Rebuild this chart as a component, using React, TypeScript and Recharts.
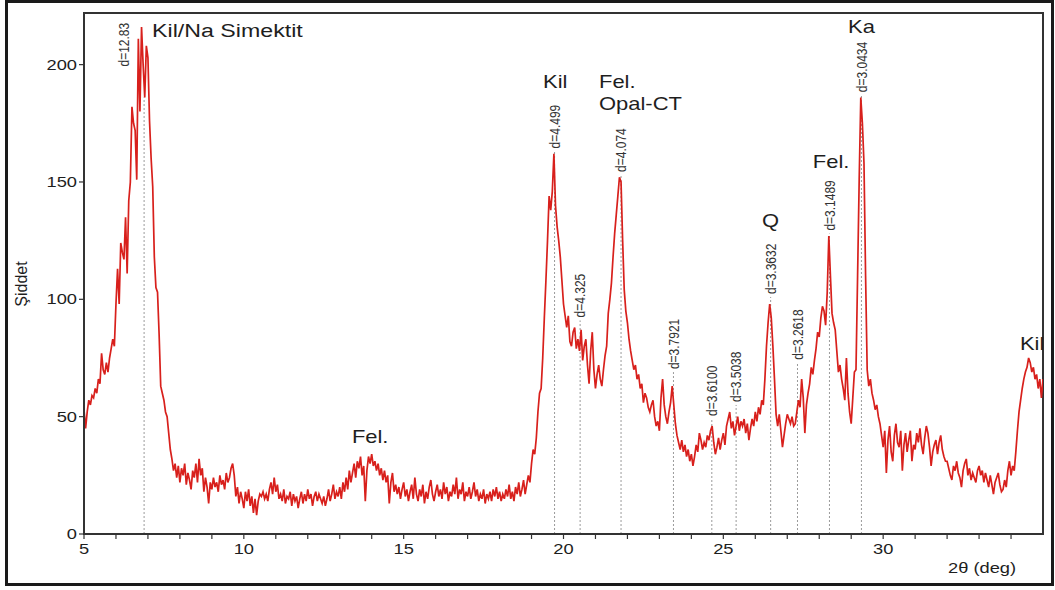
import { LineChart, Line, XAxis, YAxis, ReferenceLine, ReferenceArea, ReferenceDot } from 'recharts'

// 2θ grid: 5.00 .. 35.00 deg, one reading every 0.05 deg
const startAngle = 5
const angleStep = 0.05

// intensity, 5 deg per block
const int05to10 = [
  53, 45, 52, 57, 55, 59, 58, 62, 60, 66, 64, 77, 70, 68, 73, 69, 75, 79, 83, 80,
  98, 113, 98, 124, 120, 117, 135, 111, 142, 150, 182, 175, 172, 151, 211, 180, 216, 200, 186, 208,
  203, 176, 160, 148, 118, 105, 103, 85, 63, 60, 57, 52, 50, 43, 36, 32, 27, 30, 24, 29,
  22, 28, 25, 30, 21, 26, 23, 19, 27, 24, 30, 22, 32, 25, 28, 18, 24, 20, 13, 22,
  19, 24, 20, 22, 18, 25, 21, 23, 19, 26, 22, 24, 28, 30, 25, 16, 20, 13, 18, 15,
]
const int10to15 = [
  11, 18, 14, 19, 12, 16, 9, 15, 8, 14, 17, 16, 18, 15, 17, 14, 19, 22, 17, 24,
  18, 21, 15, 17, 14, 19, 13, 16, 15, 18, 12, 17, 14, 16, 11, 15, 18, 13, 17, 14,
  19, 15, 17, 12, 16, 18, 14, 17, 15, 13, 16, 12, 15, 19, 14, 17, 21, 15, 18, 16,
  20, 15, 22, 18, 24, 19, 27, 22, 26, 30, 24, 31, 28, 33, 25, 29, 14, 27, 33, 30,
  34, 29, 31, 27, 30, 25, 28, 23, 27, 22, 25, 13, 22, 26, 18, 21, 17, 20, 15, 19,
]
const int15to20 = [
  22, 16, 19, 14, 18, 21, 15, 24, 17, 14, 19, 16, 21, 13, 18, 15, 20, 23, 17, 14,
  18, 21, 16, 19, 15, 22, 17, 20, 14, 18, 16, 21, 17, 24, 15, 19, 17, 22, 14, 18,
  16, 20, 15, 18, 22, 16, 19, 14, 17, 15, 19, 13, 17, 15, 18, 14, 19, 16, 20, 15,
  18, 14, 17, 15, 19, 16, 21, 15, 18, 14, 20, 17, 22, 16, 19, 23, 17, 21, 25, 22,
  30, 36, 34, 41, 52, 60, 62, 75, 92, 108, 125, 144, 138, 146, 162, 140, 131, 125, 118, 108,
]
const int20to25 = [
  98, 93, 88, 93, 82, 80, 86, 88, 79, 83, 78, 87, 74, 80, 83, 72, 64, 78, 86, 70,
  62, 68, 72, 66, 63, 70, 76, 80, 94, 100, 107, 118, 128, 136, 144, 152, 150, 125, 104, 95,
  90, 83, 78, 74, 70, 72, 66, 68, 62, 64, 56, 60, 58, 54, 52, 55, 57, 50, 46, 48,
  44, 58, 66, 55, 50, 47, 52, 56, 63, 55, 47, 42, 39, 36, 40, 35, 38, 33, 36, 31,
  34, 29, 33, 38, 35, 43, 40, 36, 39, 37, 42, 40, 44, 46, 39, 34, 37, 41, 36, 40,
]
const int25to30 = [
  43, 38, 46, 49, 52, 45, 48, 42, 46, 50, 44, 48, 46, 49, 43, 47, 40, 45, 49, 46,
  52, 48, 54, 51, 57, 55, 66, 80, 90, 98, 92, 80, 66, 51, 46, 51, 44, 37, 42, 47,
  51, 49, 47, 50, 46, 47, 52, 57, 54, 66, 58, 43, 55, 60, 64, 71, 68, 74, 79, 86,
  84, 92, 97, 95, 89, 103, 127, 110, 94, 90, 87, 78, 69, 72, 66, 62, 57, 75, 60, 52,
  47, 58, 69, 70, 110, 151, 186, 175, 158, 110, 70, 63, 66, 60, 57, 53, 55, 50, 47, 42,
]
const int30to35 = [
  37, 44, 26, 40, 46, 35, 31, 42, 47, 39, 37, 44, 27, 38, 43, 35, 40, 44, 31, 38,
  36, 43, 39, 45, 38, 34, 41, 46, 43, 37, 29, 35, 38, 40, 34, 39, 42, 36, 33, 31,
  31, 28, 25, 23, 29, 27, 31, 26, 24, 20, 27, 30, 32, 25, 28, 23, 26, 24, 22, 27,
  29, 25, 27, 22, 26, 23, 20, 25, 21, 17, 22, 24, 26, 21, 18, 19, 23, 20, 27, 31,
  25, 29, 27, 35, 44, 52, 57, 62, 66, 69, 71, 75, 73, 69, 71, 66, 68, 62, 66, 58,
  66,
]

// d-spacing markers: 2θ of the peak, label, and how high the dashed line reaches
const peakAngles = [6.88, 19.72, 20.52, 21.8, 23.44, 24.64, 25.4, 26.48, 27.32, 28.32, 29.32]
const peakLabels = ['d=12.83', 'd=4.499', 'd=4.325', 'd=4.074', 'd=3.7921', 'd=3.6100', 'd=3.5038', 'd=3.3632', 'd=3.2618', 'd=3.1489', 'd=3.0434']
const peakTops = [186, 163, 91, 153, 69, 49, 55, 101, 73, 128, 187]

// mineral names and where they sit (2θ, intensity)
const mineralNames = ['Kil/Na Simektit', 'Kil', 'Fel.', 'Opal-CT', 'Fel.', 'Q', 'Fel.', 'Ka', 'Kil']
const mineralAngles = [7.13, 19.36, 21.11, 21.11, 13.38, 26.21, 27.8, 28.9, 34.28]
const mineralLevels = [211.8, 190, 190, 180.7, 38.8, 130.8, 156, 213.5, 78.4]

const xTicks = Array.from({ length: 30 }, (_, i) => 5 + i)
const yTicks = [0, 50, 100, 150, 200]

const intensity = [...int05to10, ...int10to15, ...int15to20, ...int20to25, ...int25to30, ...int30to35]
const data = intensity.map((v, i) => ({ angle: +(startAngle + i * angleStep).toFixed(2), v }))

const FONT = '"Liberation Sans", Arial, sans-serif'
const SX = 1.22
const INK = '#1e1e1e'
const RED = '#d8201c'

function XTick({ x, y, payload }: any) {
  if (payload.value % 5 !== 0) return null
  return (
    <text transform={`translate(${x},${y + 13}) scale(${SX},1)`} textAnchor="middle" fontSize={15} fill={INK} fontFamily={FONT}>
      {payload.value}
    </text>
  )
}

function YTick({ x, y, payload }: any) {
  return (
    <text transform={`translate(${x},${y + 5}) scale(${SX},1)`} textAnchor="end" fontSize={15} fill={INK} fontFamily={FONT}>
      {payload.value}
    </text>
  )
}

function PeakText({ cx, cy, label }: any) {
  // the first label sits left of its line, above the peak
  const shift = label === 'd=12.83' ? [-20, -28] : [0, 0]
  return (
    <text
      transform={`translate(${cx + shift[0]},${cy - 3 + shift[1]}) rotate(-90) scale(1,${SX})`}
      dy="0.36em"
      fontSize={12}
      fill="#333"
      fontFamily={FONT}
    >
      {label}
    </text>
  )
}

function MineralText({ cx, cy, name }: any) {
  const size = name === 'Kil/Na Simektit' ? 19 : 18
  return (
    <text transform={`translate(${cx},${cy}) scale(${SX},1)`} fontSize={size} fill={INK} fontFamily={FONT}>
      {name}
    </text>
  )
}

export default function App() {
  return (
    <div style={{ position: 'absolute', left: 0, top: 0, width: 1055, height: 590, background: '#fff' }}>
      <div
        style={{
          position: 'absolute',
          left: 5,
          top: 0,
          width: 1049,
          height: 586,
          border: '3px solid #1a1a1a',
          boxSizing: 'border-box',
        }}
      />
      <LineChart
        width={1055}
        height={590}
        data={data}
        margin={{ top: 13, right: 12, bottom: 26, left: 0 }}
        style={{ position: 'absolute', left: 0, top: 0 }}
      >
        <ReferenceArea x1={5} x2={35} y1={0} y2={222} fill="none" stroke="#333" strokeWidth={2} />
        <XAxis
          dataKey="angle"
          type="number"
          domain={[5, 35]}
          ticks={xTicks}
          interval={0}
          allowDataOverflow
          height={30}
          tickSize={5}
          stroke="#333"
          axisLine={{ stroke: '#333', strokeWidth: 2 }}
          tickLine={{ stroke: '#333', strokeWidth: 1.2 }}
          tick={<XTick />}
        />
        <YAxis
          type="number"
          domain={[0, 222]}
          ticks={yTicks}
          interval={0}
          allowDataOverflow
          width={84}
          tickSize={5}
          stroke="#333"
          axisLine={{ stroke: '#333', strokeWidth: 2 }}
          tickLine={{ stroke: '#333', strokeWidth: 1.2 }}
          tick={<YTick />}
        />
        {peakAngles.map((a, i) => (
          <ReferenceLine
            key={'l' + i}
            segment={[{ x: a, y: 0 }, { x: a, y: peakTops[i] }]}
            stroke="#9a9a9a"
            strokeDasharray="2 2"
            strokeWidth={1}
          />
        ))}
        <Line
          type="linear"
          dataKey="v"
          stroke={RED}
          strokeWidth={1.7}
          dot={false}
          isAnimationActive={false}
        />
        {peakAngles.map((a, i) => (
          <ReferenceDot
            key={'d' + i}
            x={a}
            y={peakTops[i]}
            r={0}
            shape={(p: any) => <PeakText cx={p.cx} cy={p.cy} label={peakLabels[i]} />}
          />
        ))}
        {mineralNames.map((n, i) => (
          <ReferenceDot
            key={'m' + i}
            x={mineralAngles[i]}
            y={mineralLevels[i]}
            r={0}
            shape={(p: any) => <MineralText cx={p.cx} cy={p.cy} name={n} />}
          />
        ))}
      </LineChart>
      <svg width={1055} height={590} style={{ position: 'absolute', left: 0, top: 0, pointerEvents: 'none' }}>
        <text transform="translate(27,284) rotate(-90)" textAnchor="middle" fontSize={16} fill={INK} fontFamily={FONT}>
          Şiddet
        </text>
        <text transform={`translate(948,573) scale(${SX},1)`} fontSize={15} fill={INK} fontFamily={FONT}>
          2θ (deg)
        </text>
      </svg>
    </div>
  )
}
